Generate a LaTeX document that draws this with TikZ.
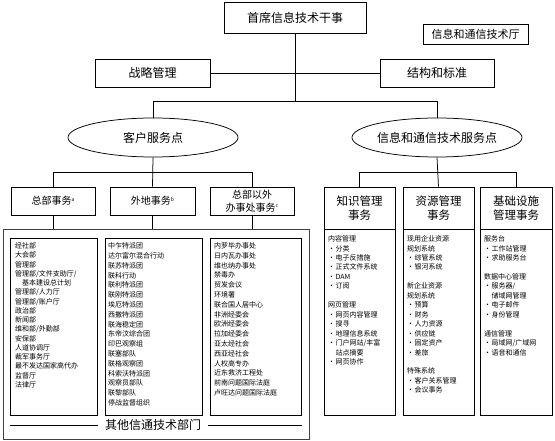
\documentclass[tikz,border=0pt]{standalone}
\usepackage{fontspec}
\newfontfamily\cjk{Noto Sans CJK SC}
\usetikzlibrary{shapes.geometric}
\newcommand\itm{\makebox[7.5pt][l]{•}}
\newcommand\itc{\makebox[7.5pt][l]{}}
\newcommand\supmark[1]{\raisebox{3.5pt}{\fontsize{5}{6}\selectfont #1}}
\begin{document}
\begin{tikzpicture}[x=1pt,y=-1pt,
  box/.style={draw, line width=0.75pt, inner sep=0pt, align=center},
  bigtxt/.style={font=\cjk\fontsize{12}{14}\selectfont},
  midtxt/.style={font=\cjk\fontsize{10}{12.5}\selectfont},
  hdtxt/.style={font=\cjk\fontsize{11.5}{14}\selectfont},
  oval/.style={draw, line width=0.75pt, ellipse, inner sep=0pt, minimum width=170pt, minimum height=39pt, font=\cjk\fontsize{12}{14}\selectfont},
  lst/.style={inner sep=0pt, align=left, anchor=north west},
  conn/.style={line width=0.75pt}]
\useasboundingbox (0,0) rectangle (555,441);

% top level
\node[box, bigtxt, minimum width=142pt, minimum height=31pt] (cio) at (295,17.5) {首席信息技术干事};
\node[box, line width=0.6pt, font=\cjk\fontsize{11}{13}\selectfont, minimum width=105pt, minimum height=20pt] (hall) at (475.5,34) {信息和通信技术厅};
\node[box, bigtxt, minimum width=115pt, minimum height=28pt] (strat) at (152.5,73) {战略管理};
\node[box, bigtxt, minimum width=114pt, minimum height=28pt] (struct) at (437,73) {结构和标准};
\coordinate (hub) at (295,101);
\draw[conn] (cio.south) -- (hub);
\draw[conn] (strat.east) -- (struct.west);

% ovals
\node[oval] (ellL) at (153,137.5) {客户服务点};
\node[oval] (ellR) at (437,137.5) {信息和通信技术服务点};
\draw[conn] (ellL.north) -- (ellL.north |- hub) -- (ellR.north |- hub) -- (ellR.north);

% left branch
\node[box, midtxt, minimum width=84pt, minimum height=28pt] (hq) at (53,201) {总部事务\supmark{a}};
\node[box, midtxt, minimum width=85pt, minimum height=28pt] (field) at (152.5,201) {外地事务\supmark{b}};
\node[box, midtxt, minimum width=84pt, minimum height=28pt] (away) at (252,201) {总部以外\\办事处事务\supmark{c}};
\coordinate (lb) at (153,172);
\draw[conn] (ellL.south) -- (field.north);
\draw[conn] (hq.north) -- (hq.north |- lb) -- (away.north |- lb) -- (away.north);

% frame of other departments
\node[draw, black!75, line width=0.6pt, inner sep=0pt, minimum width=306pt, minimum height=210pt] (frame) at (156,334) {};
\draw[conn] (hq.south) -- (hq.south |- frame.north);
\draw[conn] (field.south) -- (field.south |- frame.north);
\draw[conn] (away.south) -- (away.south |- frame.north);

\node[box, minimum width=87pt, minimum height=177pt] (l1) at (53.5,326.5) {};
\node[box, minimum width=97pt, minimum height=177pt] (l2) at (153.5,326.5) {};
\node[box, minimum width=91pt, minimum height=177pt] (l3) at (255.5,326.5) {};

\node[lst, font=\cjk\fontsize{7}{9.25}\selectfont] (t1) at (15,242.5) {经社部\\大会部\\管理部\\管理部/文件支助厅/\\\hphantom{基}基本建设总计划\\管理部/人力厅\\管理部/账户厅\\政治部\\新闻部\\维和部/外勤部\\安保部\\人道协调厅\\裁军事务厅\\最不发达国家高代办\\监督厅\\法律厅};
\node[lst, font=\cjk\fontsize{7}{9.8}\selectfont] (t2) at (108,242.5) {中乍特派团\\达尔富尔混合行动\\联苏特派团\\联科行动\\联利特派团\\联刚特派团\\埃厄特派团\\西撒特派团\\联海稳定团\\东帝汶综合团\\印巴观察组\\联塞部队\\联格观察团\\科索沃特派团\\观察员部队\\联黎部队\\停战监督组织};
\node[lst, font=\cjk\fontsize{7}{9.8}\selectfont] (t3) at (214,242.5) {内罗毕办事处\\日内瓦办事处\\维也纳办事处\\禁毒办\\贸发会议\\环境署\\联合国人居中心\\非洲经委会\\欧洲经委会\\拉加经委会\\亚太经社会\\西亚经社会\\人权高专办\\近东救济工程处\\前南问题国际法庭\\卢旺达问题国际法庭};

\node[bigtxt, inner xsep=7pt, inner ysep=0pt] (other) at (153,425) {其他信通技术部门};
\coordinate (ol) at (10,425);
\coordinate (orr) at (302,425);
\draw[line width=0.6pt] (ol) -- (other.west);
\draw[line width=0.6pt] (other.east) -- (orr);

% right branch
\node[box, hdtxt, minimum width=71pt, minimum height=42pt] (km) at (359.5,208) {知识管理\\事务};
\node[box, hdtxt, minimum width=71pt, minimum height=42pt] (rm) at (438.5,208) {资源管理\\事务};
\node[box, hdtxt, minimum width=72pt, minimum height=42pt] (im) at (516,208) {基础设施\\管理事务};
\coordinate (rb) at (438,172);
\draw[conn] (ellR.south) -- (rm.north);
\draw[conn] (km.north) -- (km.north |- rb) -- (im.north |- rb) -- (im.north);

\node[box, minimum width=71pt, minimum height=186pt, anchor=north] (kmb) at (km.south) {};
\node[box, minimum width=71pt, minimum height=186pt, anchor=north] (rmb) at (rm.south) {};
\node[box, minimum width=72pt, minimum height=186pt, anchor=north] (imb) at (im.south) {};

\node[lst, font=\cjk\fontsize{7}{9.45}\selectfont] (tk) at (328,235.5) {内容管理\\\itm 分类\\\itm 电子反措施\\\itm 正式文件系统\\\itm DAM\\\itm 订阅\\\mbox{}\\网页管理\\\itm 网页内容管理\\\itm 搜寻\\\itm 地理信息系统\\\itm 门户网站/丰富\\\itc 站点摘要\\\itm 网页协作};
\node[lst, font=\cjk\fontsize{7}{9.45}\selectfont] (tr) at (407,235.5) {现用企业资源\\规划系统\\\itm 综管系统\\\itm 银河系统\\\mbox{}\\新企业资源\\规划系统\\\itm 预算\\\itm 财务\\\itm 人力资源\\\itm 供应链\\\itm 固定资产\\\itm 差旅\\\mbox{}\\特殊系统\\\itm 客户关系管理\\\itm 会议事务};
\node[lst, font=\cjk\fontsize{7}{9.45}\selectfont] (ti) at (484,235.5) {服务台\\\itm 工作站管理\\\itm 求助服务台\\\mbox{}\\数据中心管理\\\itm 服务器/\\\itc 储域网管理\\\itm 电子邮件\\\itm 身份管理\\\mbox{}\\通信管理\\\itm 局域网/广域网\\\itm 语音和通信};
\end{tikzpicture}
\end{document}
